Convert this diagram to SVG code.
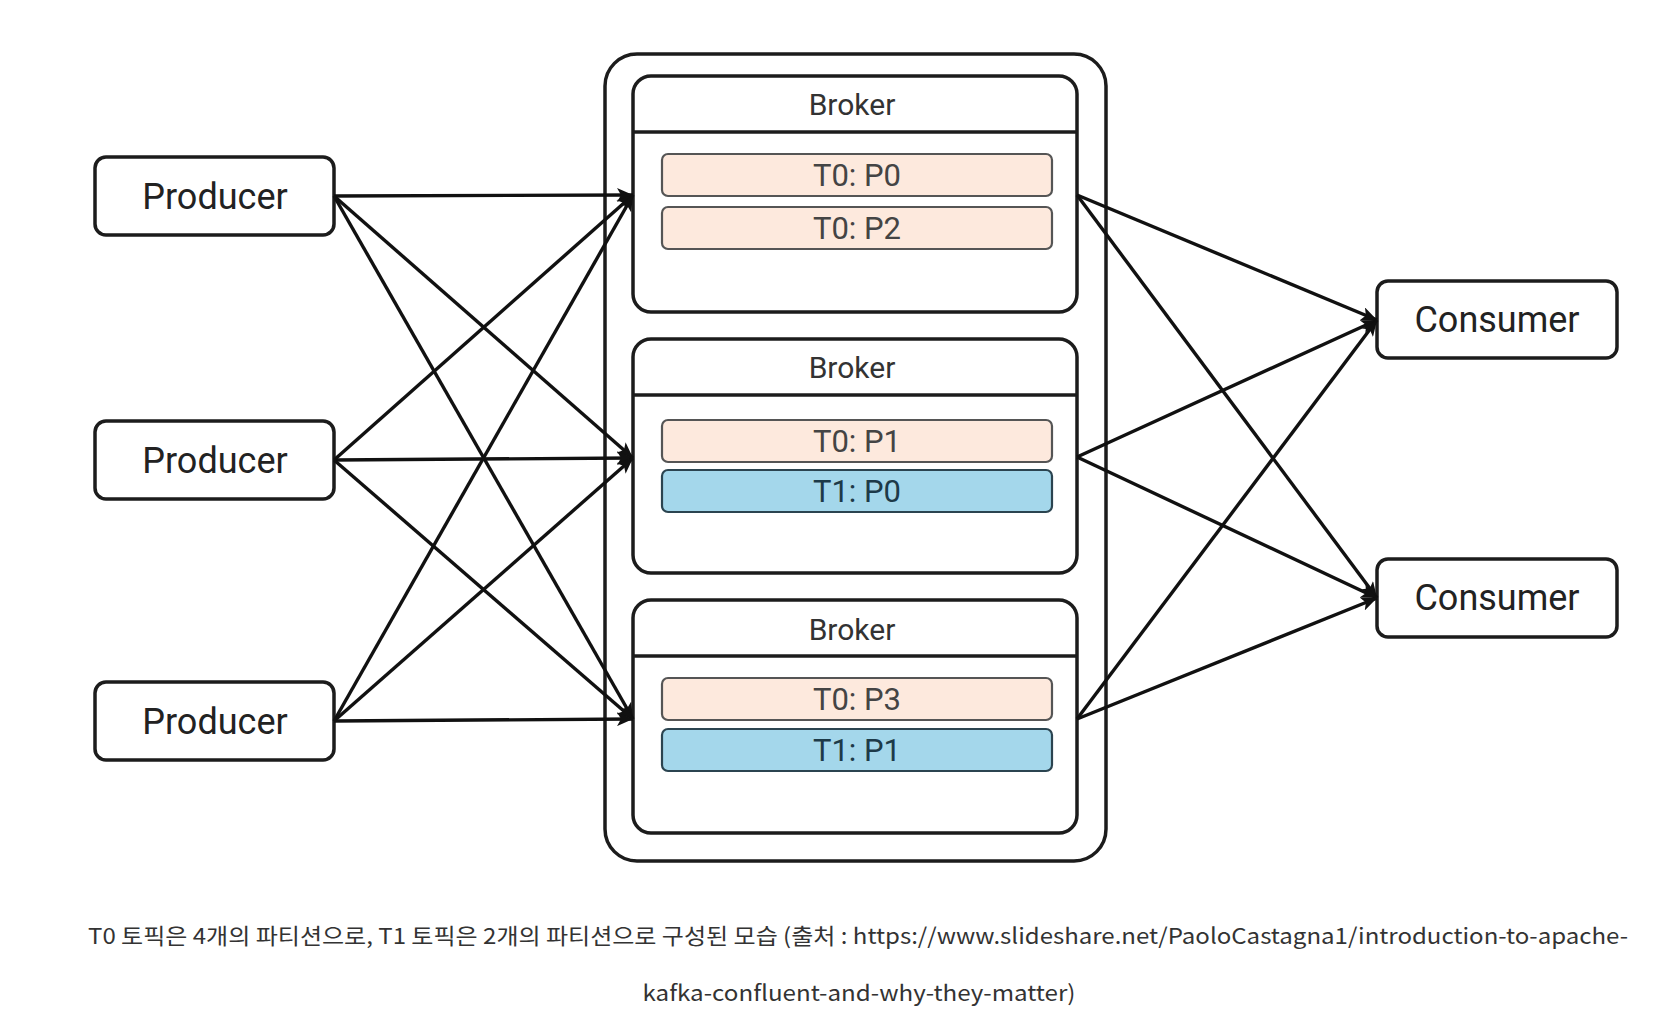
<svg xmlns="http://www.w3.org/2000/svg" width="1654" height="1030" viewBox="0 0 1654 1030">
<style>
.box{fill:#fff;stroke:#1c1c1c;stroke-width:3.5}
.lbl{font-family:Roboto,"Liberation Sans",sans-serif;fill:#222;text-anchor:middle}
.big{font-size:36px}
.brk{font-size:30px;fill:#333}
.pt{font-size:31px;text-anchor:middle;font-family:Roboto,"Liberation Sans",sans-serif}
.p0{fill:#fde9dd;stroke:#555;stroke-width:2.2}
.p1{fill:#a4d7eb;stroke:#2b4450;stroke-width:2.2}
.edge{stroke:#111;stroke-width:3.4;fill:none;marker-end:url(#arr)}
.cap{font-family:"Noto Sans CJK KR","Noto Sans",sans-serif;font-size:22px;fill:#333;text-anchor:middle}
</style>
<defs>
<marker id="arr" markerUnits="userSpaceOnUse" markerWidth="18" markerHeight="14" refX="16" refY="7" orient="auto">
<path d="M0,0 L16,7 L0,14 L4,7 z" fill="#111"/>
</marker>
</defs>
<rect width="1654" height="1030" fill="#fff"/>
<g id="cluster">
<rect class="box" x="605" y="54" width="501" height="807" rx="32"/>
</g>
<g id="broker1">
<rect class="box" x="633" y="76" width="444" height="236" rx="18"/>
<line x1="633" y1="132" x2="1077" y2="132" stroke="#1c1c1c" stroke-width="3.5"/>
<text class="lbl brk" x="852" y="115">Broker</text>
<rect class="p0" x="662" y="154" width="390" height="42" rx="6"/>
<text class="pt" x="857" y="186" fill="#444">T0: P0</text>
<rect class="p0" x="662" y="207" width="390" height="42" rx="6"/>
<text class="pt" x="857" y="239" fill="#444">T0: P2</text>
</g>
<g id="broker2">
<rect class="box" x="633" y="339" width="444" height="234" rx="18"/>
<line x1="633" y1="395" x2="1077" y2="395" stroke="#1c1c1c" stroke-width="3.5"/>
<text class="lbl brk" x="852" y="378">Broker</text>
<rect class="p0" x="662" y="420" width="390" height="42" rx="6"/>
<text class="pt" x="857" y="452" fill="#444">T0: P1</text>
<rect class="p1" x="662" y="470" width="390" height="42" rx="6"/>
<text class="pt" x="857" y="502" fill="#1d3a48">T1: P0</text>
</g>
<g id="broker3">
<rect class="box" x="633" y="600" width="444" height="233" rx="18"/>
<line x1="633" y1="656" x2="1077" y2="656" stroke="#1c1c1c" stroke-width="3.5"/>
<text class="lbl brk" x="852" y="640">Broker</text>
<rect class="p0" x="662" y="678" width="390" height="42" rx="6"/>
<text class="pt" x="857" y="710" fill="#444">T0: P3</text>
<rect class="p1" x="662" y="729" width="390" height="42" rx="6"/>
<text class="pt" x="857" y="761" fill="#1d3a48">T1: P1</text>
</g>
<g id="producer1">
<rect class="box" x="95" y="157" width="239" height="78" rx="11"/>
<text class="lbl big" x="215" y="209">Producer</text>
</g>
<g id="producer2">
<rect class="box" x="95" y="421" width="239" height="78" rx="11"/>
<text class="lbl big" x="215" y="473">Producer</text>
</g>
<g id="producer3">
<rect class="box" x="95" y="682" width="239" height="78" rx="11"/>
<text class="lbl big" x="215" y="734">Producer</text>
</g>
<g id="consumer1">
<rect class="box" x="1377" y="281" width="240" height="77" rx="11"/>
<text class="lbl big" x="1497" y="332">Consumer</text>
</g>
<g id="consumer2">
<rect class="box" x="1377" y="559" width="240" height="78" rx="11"/>
<text class="lbl big" x="1497" y="610">Consumer</text>
</g>
<g id="connectors">
<line class="edge" x1="334" y1="196" x2="633" y2="195"/>
<line class="edge" x1="334" y1="196" x2="633" y2="458"/>
<line class="edge" x1="334" y1="196" x2="633" y2="719"/>
<line class="edge" x1="334" y1="460" x2="633" y2="195"/>
<line class="edge" x1="334" y1="460" x2="633" y2="458"/>
<line class="edge" x1="334" y1="460" x2="633" y2="719"/>
<line class="edge" x1="334" y1="721" x2="633" y2="195"/>
<line class="edge" x1="334" y1="721" x2="633" y2="458"/>
<line class="edge" x1="334" y1="721" x2="633" y2="719"/>
<line class="edge" x1="1077" y1="195" x2="1377" y2="320"/>
<line class="edge" x1="1077" y1="195" x2="1377" y2="598"/>
<line class="edge" x1="1077" y1="457" x2="1377" y2="320"/>
<line class="edge" x1="1077" y1="457" x2="1377" y2="598"/>
<line class="edge" x1="1077" y1="719" x2="1377" y2="320"/>
<line class="edge" x1="1077" y1="719" x2="1377" y2="598"/>
</g>
<g id="caption">
<text class="cap" x="858" y="944" textLength="1540" lengthAdjust="spacingAndGlyphs">T0 토픽은 4개의 파티션으로, T1 토픽은 2개의 파티션으로 구성된 모습 (출처 : https://www.slideshare.net/PaoloCastagna1/introduction-to-apache-</text>
<text class="cap" x="859" y="1001" textLength="433" lengthAdjust="spacingAndGlyphs">kafka-confluent-and-why-they-matter)</text>
</g>
</svg>
